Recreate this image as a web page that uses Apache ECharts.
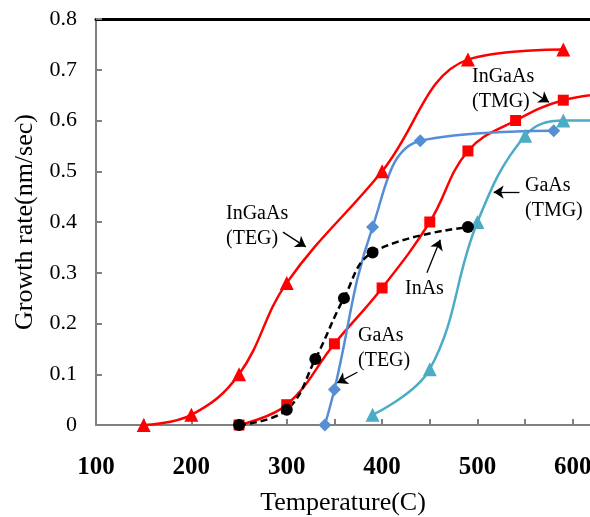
<!DOCTYPE html>
<html><head><meta charset="utf-8">
<script src="https://cdn.jsdelivr.net/npm/echarts@6/dist/echarts.min.js"></script>
<style>html,body{margin:0;padding:0;background:#fff}#c{width:590px;height:517px}</style>
</head><body><div id="c"></div>
<script>
// Temperature (C) tick labels and minor ticks
const xLabelValues = [100, 200, 300, 400, 500, 600];
const xTickValues = [100, 150, 200, 250, 300, 350, 400, 450, 500, 550, 600];
// Growth rate (nm/sec) series, [temperature, rate]
const ingaasTEG = [[150, 0], [200, 0.02], [250, 0.1], [300, 0.28], [400, 0.5], [490, 0.72], [590, 0.74]];
const ingaasTMG = [[250, 0], [300, 0.04], [350, 0.16], [400, 0.27], [450, 0.4], [490, 0.54], [540, 0.6], [590, 0.64], [650, 0.655]];
const inas = [[340, 0], [350, 0.07], [390, 0.39], [440, 0.56], [580, 0.58]];
const gaasTEG = [[250, 0], [300, 0.03], [330, 0.13], [360, 0.25], [390, 0.34], [490, 0.39]];
const gaasTMG = [[390, 0.02], [450, 0.11], [500, 0.4], [550, 0.57], [590, 0.6], [650, 0.6]];
// Annotation labels and arrows (arrow ends in data coordinates)
const labelTexts = ['InGaAs\n(TEG)', 'InGaAs\n(TMG)', 'GaAs\n(TMG)', 'InAs', 'GaAs\n(TEG)'];
const arrows = [
  [[296, 0.380], [320, 0.351]],
  [[558, 0.656], [575, 0.636]],
  [[544, 0.459], [517, 0.459]],
  [[447, 0.300], [461, 0.365]],
  [[374, 0.104], [353, 0.083]]
];
const labelPos = [[226, 201], [472, 64], [525, 173], [405, 276], [358, 323]];

const FONT = '"Liberation Serif", "Times New Roman", serif';
const chart = echarts.init(document.getElementById('c'));

function lineSeries(name, data, color, symbol, size, dashed) {
  return {
    name: name, type: 'line', data: data, smooth: 0.4, clip: true,
    symbol: symbol, symbolSize: size, showAllSymbol: true,
    lineStyle: {color: color, width: 2.5, type: dashed ? [7, 4] : 'solid'},
    itemStyle: {color: color, borderWidth: 0},
    emphasis: {disabled: true}, z: 3
  };
}

const series = [
  lineSeries('InGaAs (TMG)', ingaasTMG, '#ff0000', 'rect', 11, false),
  lineSeries('InGaAs (TEG)', ingaasTEG, '#ff0000', 'triangle', 14, false),
  lineSeries('GaAs (TMG)', gaasTMG, '#4bacc6', 'triangle', 14, false),
  lineSeries('InAs', inas, '#558ed5', 'diamond', 13, false),
  lineSeries('GaAs (TEG)', gaasTEG, '#000000', 'circle', 12, true)
];
series.push({
  type: 'line', data: [], silent: true,
  markLine: {
    silent: true, symbol: ['none', 'arrow'], symbolSize: 10, animation: false,
    lineStyle: {color: '#000', width: 1.3, type: 'solid'},
    label: {show: false},
    data: arrows.map(a => [{coord: a[0]}, {coord: a[1]}])
  }
});

chart.setOption({
  animation: false,
  backgroundColor: '#fff',
  grid: {left: 96, right: 0, top: 19, bottom: 92, containLabel: false, outerBoundsMode: 'none'},
  xAxis: [{
    type: 'value', min: 100, max: 618,
    name: 'Temperature(C)', nameLocation: 'middle', nameGap: 65,
    nameTextStyle: {fontFamily: FONT, fontSize: 26, color: '#000'},
    axisLine: {show: true, lineStyle: {color: '#808080', width: 2}},
    axisTick: {show: true, inside: true, length: 6, customValues: xTickValues, lineStyle: {color: '#808080', width: 2}},
    axisLabel: {customValues: xLabelValues, margin: 30, fontFamily: FONT, fontSize: 25, fontWeight: 'bold', color: '#000'},
    splitLine: {show: false}
  }, {
    type: 'value', min: 100, max: 618, position: 'top',
    axisLine: {show: true, onZero: false, lineStyle: {color: '#000', width: 3}},
    axisTick: {show: false}, axisLabel: {show: false}, splitLine: {show: false}
  }],
  yAxis: {
    type: 'value', min: 0, max: 0.8, interval: 0.1,
    name: 'Growth rate(nm/sec)', nameLocation: 'middle', nameGap: 58,
    nameTextStyle: {fontFamily: FONT, fontSize: 26, color: '#000'},
    axisLine: {show: true, lineStyle: {color: '#808080', width: 2}},
    axisTick: {show: true, inside: true, length: 6, lineStyle: {color: '#808080', width: 2}},
    axisLabel: {margin: 19, fontFamily: FONT, fontSize: 22, color: '#000',
      formatter: v => v === 0 ? '0' : v.toFixed(1)},
    splitLine: {show: false}
  },
  series: series,
  graphic: labelTexts.map((t, i) => ({
    type: 'text', left: labelPos[i][0], top: labelPos[i][1], z: 10,
    style: {text: t, font: '20px ' + FONT, fill: '#000', lineHeight: 25}
  }))
});
</script></body></html>
